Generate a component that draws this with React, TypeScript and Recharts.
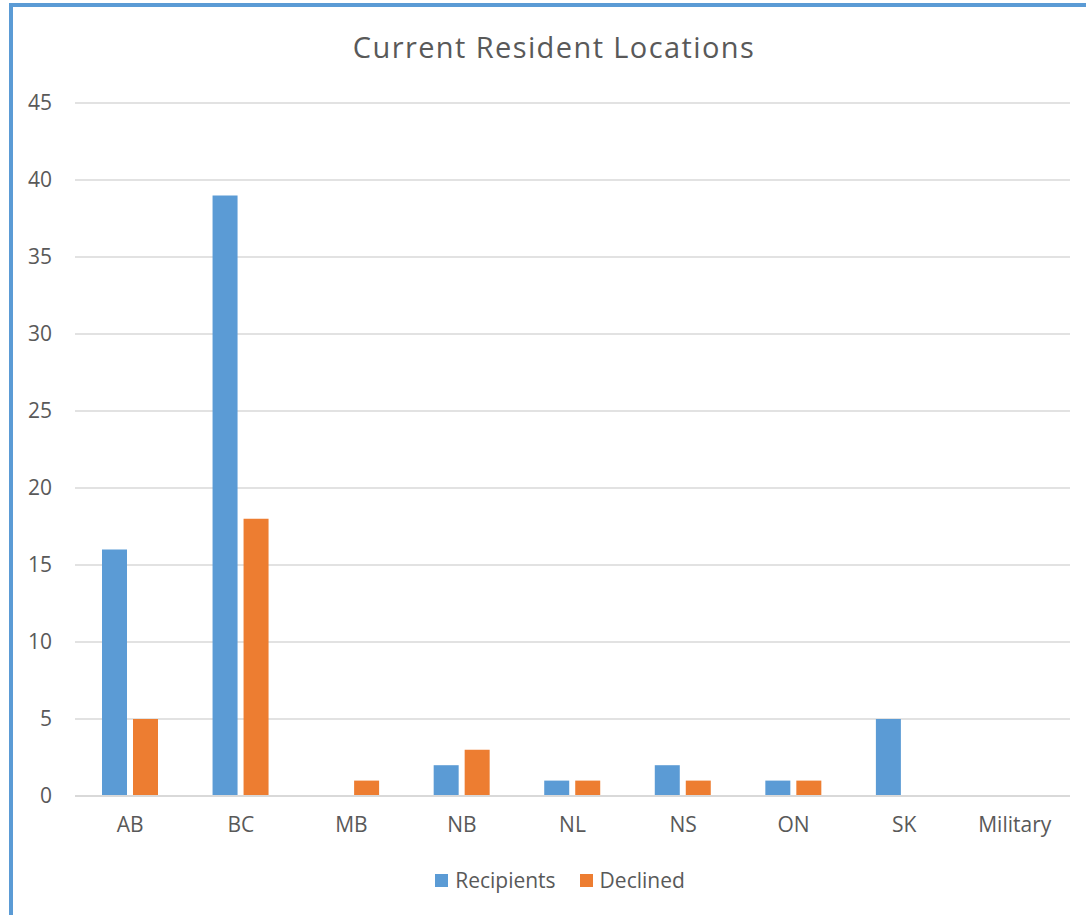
import React from 'react'
import { BarChart, Bar, XAxis, YAxis, CartesianGrid, Legend } from 'recharts'

const provinces = ['AB', 'BC', 'MB', 'NB', 'NL', 'NS', 'ON', 'SK', 'Military']
const recipients = [16, 39, 0, 2, 1, 2, 1, 5, 0]
const declined = [5, 18, 1, 3, 1, 1, 1, 0, 0]
const yTicks = [0, 5, 10, 15, 20, 25, 30, 35, 40, 45]

const seriesList = [
  { key: 'Recipients', color: '#5b9bd5' },
  { key: 'Declined', color: '#ed7d31' },
]

const data = provinces.map((p, i) => ({
  name: p,
  Recipients: recipients[i],
  Declined: declined[i],
}))

const font = '"Open Sans", sans-serif'
const textColor = '#595959'

const LegendBox = () => (
  <div style={{ display: 'flex', justifyContent: 'center', alignItems: 'center', fontFamily: font, fontSize: 21, color: textColor, paddingLeft: 50 }}>
    {seriesList.map((s, i) => (
      <div key={s.key} style={{ display: 'flex', alignItems: 'center', marginLeft: i === 0 ? 0 : 24 }}>
        <span style={{ display: 'inline-block', width: 13, height: 13, background: s.color, marginRight: 7 }} />
        <span>{s.key}</span>
      </div>
    ))}
  </div>
)

const App: React.FC = () => {
  return (
    <div style={{ position: 'fixed', left: 0, top: 0, width: 1086, height: 915, overflow: 'hidden', background: '#fff', fontFamily: font }}>
      <div
        style={{
          position: 'absolute',
          left: 9,
          top: 3,
          width: 1077,
          height: 912,
          boxSizing: 'border-box',
          borderTop: '4px solid #5b9bd5',
          borderLeft: '4px solid #5b9bd5',
        }}
      />
      <div
        style={{
          position: 'absolute',
          left: 0,
          top: 29,
          width: 1108,
          textAlign: 'center',
          fontSize: 29,
          letterSpacing: 1.4,
          color: textColor,
          lineHeight: '36px',
        }}
      >
        Current Resident Locations
      </div>
      <div style={{ position: 'absolute', left: 0, top: 0 }}>
        <BarChart
          width={1086}
          height={915}
          data={data}
          barSize={25}
          barGap={6}
          margin={{ top: 103, right: 16, left: 0, bottom: 0 }}
        >
          <CartesianGrid vertical={false} stroke="#d9d9d9" strokeWidth={1.5} />
          <XAxis
            dataKey="name"
            height={70}
            axisLine={{ stroke: '#d9d9d9', strokeWidth: 2 }}
            tickLine={false}
            tickSize={0}
            tickMargin={21}
            tick={{ fill: textColor, fontSize: 21, fontFamily: font }}
            interval={0}
          />
          <YAxis
            width={75}
            domain={[0, 45]}
            ticks={yTicks}
            axisLine={false}
            tickLine={false}
            tickSize={0}
            tickMargin={23}
            tick={{ fill: textColor, fontSize: 21, fontFamily: font }}
          />
          <Legend verticalAlign="bottom" height={49} content={<LegendBox />} />
          {seriesList.map((s) => (
            <Bar key={s.key} dataKey={s.key} fill={s.color} isAnimationActive={false} />
          ))}
        </BarChart>
      </div>
    </div>
  )
}

export default App
